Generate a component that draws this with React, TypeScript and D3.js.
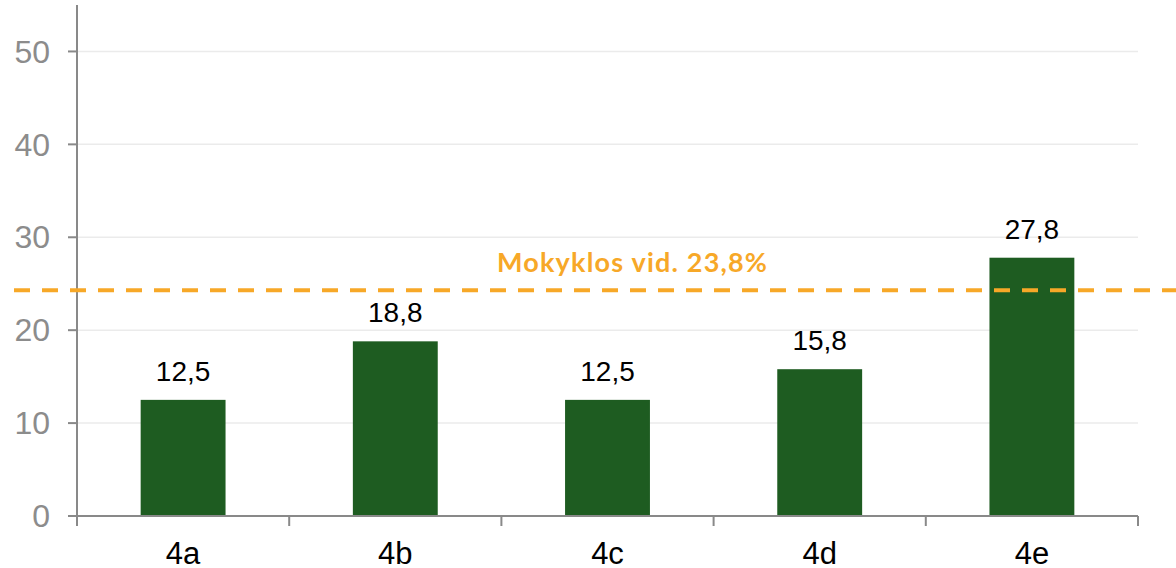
import React, { useEffect, useRef } from "react";
import * as d3 from "d3";

const categories = ["4a", "4b", "4c", "4d", "4e"];
const values = [12.5, 18.8, 12.5, 15.8, 27.8];
const valueLabels = ["12,5", "18,8", "12,5", "15,8", "27,8"];
const yTicks = [0, 10, 20, 30, 40, 50];
const avgLineValue = 24.3;
const avgLabel = "Mokyklos vid. 23,8%";

const W = 1176;
const H = 568;

export default function App() {
  const ref = useRef<SVGSVGElement>(null);

  useEffect(() => {
    const svg = d3.select(ref.current);
    svg.selectAll("*").remove();

    const margin = { top: 5, right: 38, bottom: 52, left: 77 };
    const w = W - margin.left - margin.right;
    const h = H - margin.top - margin.bottom;

    const x = d3.scaleBand().domain(categories).range([0, w]).padding(0);
    const y = d3.scaleLinear().domain([0, 55]).range([h, 0]);
    const barW = x.bandwidth() * 0.4;

    const g = svg.append("g").attr("transform", `translate(${margin.left},${margin.top})`);

    // gridlines
    g.selectAll(".grid")
      .data(yTicks.filter(t => t > 0))
      .join("line")
      .attr("x1", 0)
      .attr("x2", w)
      .attr("y1", d => y(d))
      .attr("y2", d => y(d))
      .attr("stroke", "#ebebeb")
      .attr("stroke-width", 1.5);

    // bars
    g.selectAll(".bar")
      .data(values)
      .join("rect")
      .attr("x", (d, i) => x(categories[i])! + (x.bandwidth() - barW) / 2)
      .attr("y", d => y(d))
      .attr("width", barW)
      .attr("height", d => h - y(d))
      .attr("fill", "#1e5c21");

    // value labels
    g.selectAll(".val")
      .data(values)
      .join("text")
      .attr("x", (d, i) => x(categories[i])! + x.bandwidth() / 2)
      .attr("y", d => y(d) - 19)
      .attr("text-anchor", "middle")
      .style("font-family", "'Liberation Sans', Arial, sans-serif")
      .style("font-size", "28px")
      .attr("fill", "#000")
      .text((d, i) => valueLabels[i]);

    // y axis
    const axisColor = "#898989";
    g.append("line")
      .attr("x1", 0).attr("x2", 0)
      .attr("y1", y(55)).attr("y2", h)
      .attr("stroke", axisColor).attr("stroke-width", 2);
    g.selectAll(".ytick")
      .data(yTicks)
      .join("line")
      .attr("x1", -9).attr("x2", 0)
      .attr("y1", d => y(d)).attr("y2", d => y(d))
      .attr("stroke", axisColor).attr("stroke-width", 2);
    g.selectAll(".ylab")
      .data(yTicks)
      .join("text")
      .attr("x", -27)
      .attr("y", d => y(d))
      .attr("dy", "0.35em")
      .attr("text-anchor", "end")
      .style("font-family", "'Liberation Sans', Arial, sans-serif")
      .style("font-size", "32px")
      .attr("fill", "#8c8c8c")
      .text(d => d);

    // x axis
    g.append("line")
      .attr("x1", -9).attr("x2", w)
      .attr("y1", h).attr("y2", h)
      .attr("stroke", axisColor).attr("stroke-width", 2);
    const bounds = categories.map(c => x(c)!).concat([w]);
    g.selectAll(".xtick")
      .data(bounds)
      .join("line")
      .attr("x1", d => d).attr("x2", d => d)
      .attr("y1", h).attr("y2", h + 10)
      .attr("stroke", axisColor).attr("stroke-width", 2);
    g.selectAll(".xlab")
      .data(categories)
      .join("text")
      .attr("x", d => x(d)! + x.bandwidth() / 2)
      .attr("y", h + 48)
      .attr("text-anchor", "middle")
      .style("font-family", "'Liberation Sans', Arial, sans-serif")
      .style("font-size", "31px")
      .attr("fill", "#000")
      .text(d => d);

    // average line
    g.append("line")
      .attr("x1", -63).attr("x2", W - margin.left)
      .attr("y1", y(avgLineValue)).attr("y2", y(avgLineValue))
      .attr("stroke", "#f7a828")
      .attr("stroke-width", 4)
      .attr("stroke-dasharray", "16,12");
    g.append("text")
      .attr("x", 420)
      .attr("y", y(avgLineValue) - 18)
      .attr("textLength", 270)
      .style("font-family", "Lato, 'Open Sans', sans-serif")
      .style("font-weight", "bold")
      .style("font-size", "27px")
      .attr("fill", "#f7a828")
      .text(avgLabel);
  }, []);

  return (
    <svg
      ref={ref}
      width={W}
      height={H}
      style={{ position: "absolute", left: 0, top: 0, background: "#fff" }}
    />
  );
}
